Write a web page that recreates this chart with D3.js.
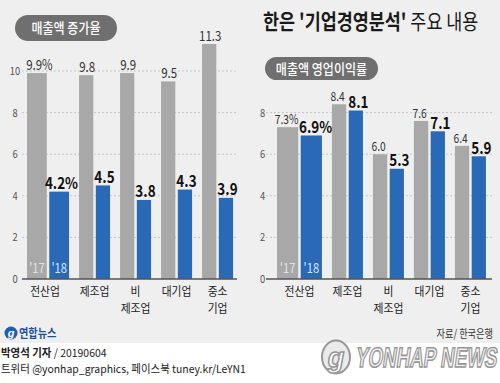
<!DOCTYPE html>
<html><head><meta charset="utf-8">
<script src="https://cdn.jsdelivr.net/npm/d3@7"></script>
<style>body{margin:0;background:#fff}svg{display:block}</style>
</head><body><svg id="c" width="500" height="383"></svg>
<script>
// ---- data ----
const categories = [["전산업"], ["제조업"], ["비", "제조업"], ["대기업"], ["중소", "기업"]];
const years = ["'17", "'18"];
const salesGrowth17 = [9.9, 9.8, 9.9, 9.5, 11.3];
const salesGrowth18 = [4.2, 4.5, 3.8, 4.3, 3.9];
const opMargin17 = [7.3, 8.4, 6.0, 7.6, 6.4];
const opMargin18 = [6.9, 8.1, 5.3, 7.1, 5.9];
const leftTicks = [0, 2, 4, 6, 8, 10];
const rightTicks = [0, 2, 4, 6, 8];
const titleBold = "한은 '기업경영분석'";
const titleRest = " 주요 내용";
const leftLabel = "매출액 증가율";
const rightLabel = "매출액 영업이익률";
const source = "자료/ 한국은행";
const byline = ["박영석 기자", " / 20190604"];
const social = "트위터 @yonhap_graphics, 페이스북 tuney.kr/LeYN1";

// ---- drawing ----
const FONT = "'Noto Sans CJK KR','Noto Sans',sans-serif";
const GRAY = "#a8a8a8", BLUE = "#2a69b6";
const svg = d3.select("#c");

function T(g, x, y, s, o = {}) {
  return g.append("text")
    .attr("transform", `translate(${x},${y}) scale(${o.sx || 0.84},1)`)
    .attr("text-anchor", o.anchor || "start")
    .attr("font-size", o.size || 12)
    .attr("font-weight", o.weight || 400)
    .attr("fill", o.fill || "#222")
    .attr("font-family", o.font || FONT)
    .text(s);
}

// backgrounds
svg.append("rect").attr("width", 500).attr("height", 383).attr("fill", "#fff");
svg.append("rect").attr("width", 500).attr("height", 343).attr("fill", "#efefef");

const y = d3.scaleLinear().domain([0, 10]).range([279, 71]);

function chart(o) {
  const g = svg.append("g");
  const units = [o.first, 1, 1, 1, 1];
  const cum = d3.cumsum(units);
  const total = cum[cum.length - 1];
  const xs = d3.scaleLinear().domain([0, total]).range([o.x0, o.x0 + total * 41]);
  // grid
  o.ticks.filter(t => t > 0).forEach(t => {
    g.append("line").attr("x1", o.gx0).attr("x2", o.gx1).attr("y1", y(t)).attr("y2", y(t))
      .attr("stroke", "#c6c6c6").attr("stroke-width", 1).attr("stroke-dasharray", "2,2");
  });
  o.ticks.forEach(t => {
    T(g, o.tx, y(t) + 4, String(t), { anchor: "middle", size: 11, fill: "#555", sx: 0.85 });
  });
  categories.forEach((cat, i) => {
    const s = xs(cum[i] - units[i]);
    const e = xs(cum[i]) - 10;
    const gap = 2.5;
    const w = (e - s - gap) / 2;
    const xa = s, xb = s + w + gap;
    const va = o.v17[i], vb = o.v18[i];
    g.append("rect").attr("x", xa).attr("y", y(va)).attr("width", w).attr("height", y(0) - y(va)).attr("fill", GRAY);
    g.append("rect").attr("x", xb).attr("y", y(vb)).attr("width", w).attr("height", y(0) - y(vb)).attr("fill", BLUE);
    const first = i === 0;
    const pa = first ? "%" : "";
    T(g, xa + w / 2 + (first ? o.gdx1 : o.gdx), y(va) - 3, va.toFixed(1) + pa,
      { anchor: "middle", size: o.graySize, fill: "#333", sx: 0.82 });
    T(g, xb + w / 2 + (first ? o.bdx1 : o.bdx), y(vb) - 2.5, vb.toFixed(1) + pa,
      { anchor: "middle", size: 16, weight: 700, fill: "#111", sx: 0.84 });
    if (first) {
      T(g, xa + w / 2, y(0) - 6, years[0], { anchor: "middle", size: 14, fill: "#e4e4e4", sx: 0.8 });
      T(g, xb + w / 2, y(0) - 6, years[1], { anchor: "middle", size: 14, fill: "#d8e6f8", sx: 0.8 });
    }
    const cx = (s + e) / 2 + (first ? o.labelDx : 0);
    const ct = g.append("text")
      .attr("transform", `translate(${cx},295.5) scale(0.9,1)`)
      .attr("text-anchor", "middle").attr("font-size", 12).attr("fill", "#222").attr("font-family", FONT);
    cat.forEach((line, k) => {
      ct.append("tspan").attr("x", 0).attr("y", k * 17.5).text(line);
    });
  });
  g.append("line").attr("x1", o.gx0).attr("x2", o.gx1).attr("y1", y(0)).attr("y2", y(0))
    .attr("stroke", "#555").attr("stroke-width", 1.5);
  // pill
  g.append("rect").attr("x", o.pill[0]).attr("y", o.pill[1]).attr("width", o.pill[2]).attr("height", o.pill[3])
    .attr("rx", o.pill[3] / 2).attr("fill", "#6f6f6f");
  T(g, o.pill[0] + o.pill[2] / 2, o.pill[1] + o.pill[3] / 2 + 5, o.label, { anchor: "middle", size: 14, weight: 500, fill: "#fff", sx: 0.86 });
}

chart({ v17: salesGrowth17, v18: salesGrowth18, ticks: leftTicks, x0: 27, first: 1.27, gx0: 22, gx1: 237, tx: 15,
  graySize: 14, labelDx: -3, gdx: 1, gdx1: 2.5, bdx: 1.5, bdx1: 2.3, pill: [15, 15, 102, 26], label: leftLabel });
chart({ v17: opMargin17, v18: opMargin18, ticks: rightTicks, x0: 277, first: 1.34, gx0: 266, gx1: 492, tx: 262.5,
  graySize: 12.5, labelDx: 0, gdx: -1.5, gdx1: -1, bdx: 2.5, bdx1: 4.2, pill: [265, 57, 113, 23], label: rightLabel });

// title
const tt = svg.append("text").attr("transform", "translate(263,29) scale(0.83,1)")
  .attr("font-family", FONT).attr("font-size", 21).attr("fill", "#1a1a1a");
tt.append("tspan").attr("font-weight", 700).text(titleBold);
tt.append("tspan").attr("font-weight", 400).text(titleRest);

// source
T(svg, 493, 338, source, { anchor: "end", size: 11.5, fill: "#333", sx: 0.8 });

// bottom-left logo
const lg = svg.append("g");
lg.append("circle").attr("cx", 11).attr("cy", 333).attr("r", 6.5).attr("fill", "#1f5fae");
lg.append("text").attr("x", 11).attr("y", 337).attr("text-anchor", "middle").attr("font-size", 11)
  .attr("font-style", "italic").attr("font-weight", 700).attr("fill", "#fff").attr("font-family", "'Liberation Sans',sans-serif").text("g");
T(lg, 19, 338, "연합뉴스", { size: 12, weight: 700, fill: "#1d4f9a", sx: 0.85 });

// byline + social (one wrapped text block)
const bl = svg.append("text").attr("transform", "translate(1,357) scale(0.95,1)")
  .attr("font-family", FONT).attr("font-size", 11).attr("fill", "#222");
bl.append("tspan").attr("x", 0).attr("y", 0).attr("font-weight", 700).text(byline[0]);
bl.append("tspan").attr("font-weight", 400).text(byline[1]);
bl.append("tspan").attr("x", 0).attr("y", 16).attr("font-weight", 400).text(social);

// watermark
const wm = svg.append("g").attr("opacity", 0.9);
wm.append("ellipse").attr("cx", 336).attr("cy", 357).attr("rx", 14).attr("ry", 16.5)
  .attr("fill", "#e9e9e9").attr("stroke", "#8c8c8c").attr("stroke-width", 2);
wm.append("text").attr("x", 336).attr("y", 367).attr("text-anchor", "middle").attr("font-size", 27)
  .attr("font-style", "italic").attr("font-weight", 700).attr("fill", "#fff").attr("stroke", "#8c8c8c")
  .attr("stroke-width", 1.5).attr("font-family", "'Liberation Sans',sans-serif").text("g");
wm.append("text").attr("transform", "translate(355,367) scale(0.67,1) skewX(-12)")
  .attr("font-size", 28).attr("font-weight", 700).attr("fill", "#f2f2f2").attr("stroke", "#8c8c8c")
  .attr("stroke-width", 1.6).attr("font-family", "'Liberation Sans',sans-serif").text("YONHAP NEWS");
</script></body></html>
